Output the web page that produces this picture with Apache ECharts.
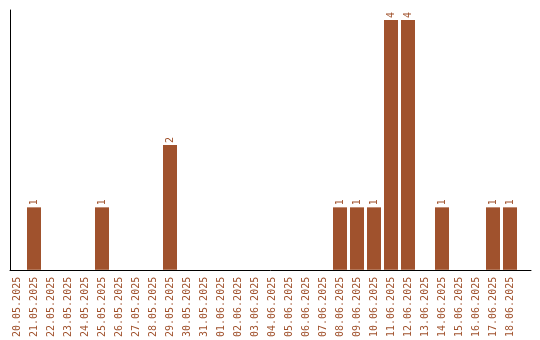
<!DOCTYPE html>
<html>
<head>
<meta charset="utf-8">
<script src="https://cdn.jsdelivr.net/npm/echarts@6/dist/echarts.min.js"></script>
<style>html,body{margin:0;padding:0;background:#fff}#c{width:540px;height:340px}</style>
</head>
<body>
<div id="c"></div>
<script>
var categories = ['20.05.2025','21.05.2025','22.05.2025','23.05.2025','24.05.2025','25.05.2025','26.05.2025','27.05.2025','28.05.2025','29.05.2025','30.05.2025','31.05.2025','01.06.2025','02.06.2025','03.06.2025','04.06.2025','05.06.2025','06.06.2025','07.06.2025','08.06.2025','09.06.2025','10.06.2025','11.06.2025','12.06.2025','13.06.2025','14.06.2025','15.06.2025','16.06.2025','17.06.2025','18.06.2025'];
var values = [0,1,0,0,0,1,0,0,0,2,0,0,0,0,0,0,0,0,0,1,1,1,4,4,0,1,0,0,1,1];
var color = '#A0522D';
var chart = echarts.init(document.getElementById('c'), null, {renderer:'canvas'});
chart.setOption({
  animation: false,
  grid: [
    {left: 8.5, width: 510, top: 10, height: 260},
    {left: 10, width: 521, top: 10, height: 260}
  ],
  xAxis: [
    {type:'category', gridIndex:0, data: categories,
     axisLine:{show:false}, axisTick:{show:false},
     axisLabel:{interval:0, rotate:90, margin:7, color: color, fontFamily:'DejaVu Sans Mono', fontSize:10}},
    {type:'value', gridIndex:1, min:0, max:1,
     axisLine:{show:true, lineStyle:{color:'#000', width:1}}, axisTick:{show:false},
     axisLabel:{show:false}, splitLine:{show:false}}
  ],
  yAxis: [
    {type:'value', gridIndex:0, min:0, max:4.16, show:false, splitLine:{show:false}},
    {type:'value', gridIndex:1, min:0, max:1,
     axisLine:{show:true, lineStyle:{color:'#000', width:1}}, axisTick:{show:false},
     axisLabel:{show:false}, splitLine:{show:false}}
  ],
  series: [{
    type:'bar', xAxisIndex:0, yAxisIndex:0,
    data: values.map(function(v){ return v === 0 ? {value: v, label:{show:false}} : v; }),
    barWidth: 14,
    itemStyle:{color: color},
    label:{show:true, position:'top', rotate:90, distance:2, align:'left', verticalAlign:'middle',
      color: color, fontFamily:'DejaVu Sans Mono', fontSize:10}
  }]
});
</script>
</body>
</html>
